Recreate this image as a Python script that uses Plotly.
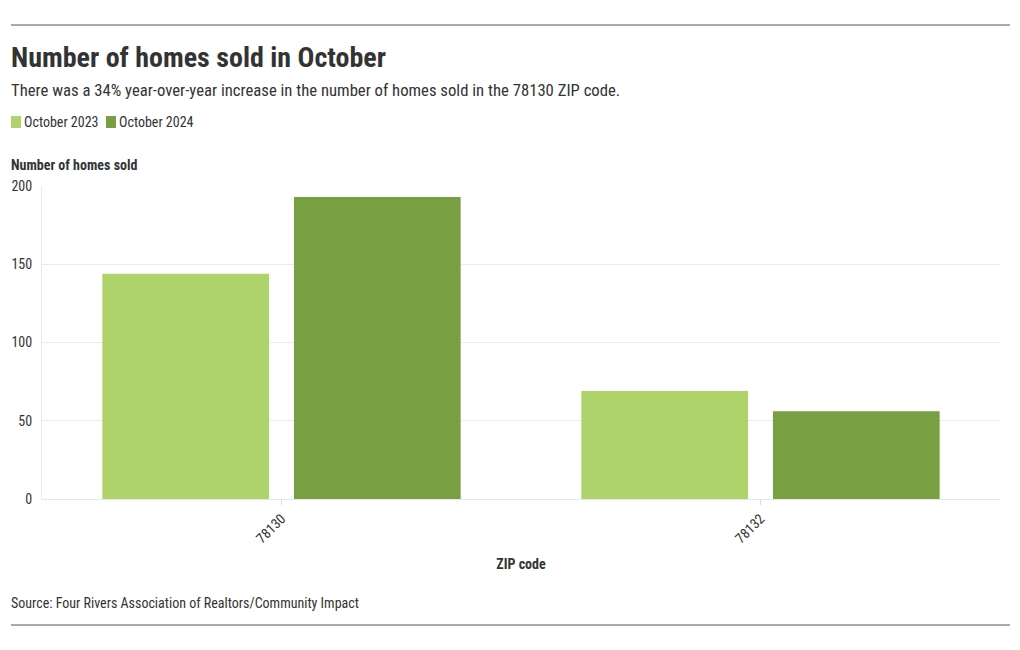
import plotly.graph_objects as go

zip_codes = ["78130", "78132"]
series_names = ["October 2023", "October 2024"]
oct_2023 = [144, 69]
oct_2024 = [193, 56]
y_ticks = [0, 50, 100, 150, 200]

colors = ["#aed36a", "#78a042"]
FONT = "Roboto Condensed, Liberation Sans Narrow, Roboto, sans-serif"
TXT = "#333333"

W, H = 1020, 650
L, R, T, B = 42, 20, 186, 151
PW, PH = W - L - R, H - T - B

def px(x):
    return (x - L) / PW

def py(y):
    return (H - B - y) / PH

fig = go.Figure()
for name, vals, c in zip(series_names, [oct_2023, oct_2024], colors):
    fig.add_trace(go.Bar(x=zip_codes, y=vals, name=name, marker_color=c,
                         marker_line_width=0, showlegend=False))

shapes = [
    dict(type="line", xref="paper", yref="paper", x0=px(11), x1=px(1010), y0=py(25), y1=py(25),
         line=dict(color="#555555", width=1)),
    dict(type="line", xref="paper", yref="paper", x0=px(11), x1=px(1010), y0=py(625), y1=py(625),
         line=dict(color="#555555", width=1)),
]
annotations = [
    dict(text="<b>Number of homes sold in October</b>", x=px(9), y=py(57), xref="paper", yref="paper",
         xanchor="left", yanchor="middle", showarrow=False, font=dict(family=FONT, size=28, color=TXT)),
    dict(text="There was a 34% year-over-year increase in the number of homes sold in the 78130 ZIP code.",
         x=px(9), y=py(90), xref="paper", yref="paper", xanchor="left", yanchor="middle",
         showarrow=False, font=dict(family=FONT, size=16.7, color=TXT)),
    dict(text="<b>Number of homes sold</b>", x=px(9), y=py(165), xref="paper", yref="paper",
         xanchor="left", yanchor="middle", showarrow=False, font=dict(family=FONT, size=14, color=TXT)),
    dict(text="Source: Four Rivers Association of Realtors/Community Impact", x=px(9), y=py(603),
         xref="paper", yref="paper", xanchor="left", yanchor="middle", showarrow=False,
         font=dict(family=FONT, size=14, color=TXT)),
]
# legend
leg_x = [11, 106]
for name, c, lx in zip(series_names, colors, leg_x):
    shapes.append(dict(type="rect", xref="paper", yref="paper", x0=px(lx), x1=px(lx + 10),
                       y0=py(128), y1=py(116), fillcolor=c, line=dict(width=0)))
    annotations.append(dict(text=name, x=px(lx + 11), y=py(122), xref="paper", yref="paper",
                            xanchor="left", yanchor="middle", showarrow=False,
                            font=dict(family=FONT, size=14, color=TXT)))

fig.update_layout(
    width=W, height=H,
    margin=dict(l=L, r=R, t=T, b=B),
    paper_bgcolor="white", plot_bgcolor="white",
    barmode="group", bargap=0.2, bargroupgap=0.13,
    font=dict(family=FONT, size=14, color=TXT),
    shapes=shapes, annotations=annotations,
    xaxis=dict(type="category", tickangle=-45, showgrid=False, ticks="outside", ticklen=5,
               tickcolor="#dddddd", linecolor="#e6e6e6", showline=True,
               title=dict(text="<b>ZIP code</b>", font=dict(family=FONT, size=14, color=TXT), standoff=13)),
    yaxis=dict(range=[0, 200], tickvals=y_ticks, showgrid=True, gridcolor="#ebebeb",
               zeroline=False, showline=True, linecolor="#ebebeb", ticks="", ticklabelstandoff=6),
)

fig.write_html("out.html", config={"displayModeBar": False},
               post_script="document.body.style.margin='0px';")
